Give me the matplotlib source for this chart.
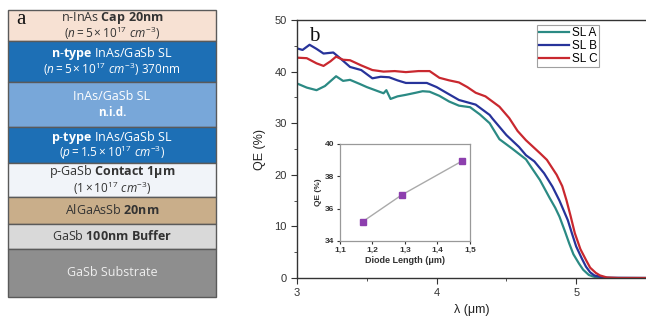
import matplotlib
matplotlib.use("Agg")
import matplotlib.pyplot as plt
from matplotlib.patches import Rectangle

plt.rcParams['font.family'] = ['Liberation Sans', 'DejaVu Sans']
plt.rcParams['mathtext.fontset'] = 'custom'
plt.rcParams['mathtext.rm'] = 'Open Sans'
plt.rcParams['mathtext.it'] = 'Open Sans:italic'
plt.rcParams['mathtext.bf'] = 'Open Sans:bold'

# ---------------- data ----------------
wl_a = [3.00, 3.07, 3.14, 3.20, 3.28, 3.33, 3.38, 3.45, 3.50, 3.58, 3.62, 3.64, 3.67, 3.72,
        3.78, 3.85, 3.90, 3.95, 4.02, 4.09, 4.16, 4.24, 4.31, 4.38, 4.45, 4.54, 4.64, 4.74,
        4.81, 4.85, 4.88, 4.92, 4.95, 4.98, 5.02, 5.05, 5.09, 5.12, 5.15, 5.25, 5.50]
qe_a = [37.7, 36.9, 36.4, 37.2, 39.1, 38.2, 38.4, 37.6, 37.0, 36.2, 35.8, 36.4, 34.7, 35.2,
        35.5, 35.9, 36.2, 36.1, 35.3, 34.2, 33.4, 33.1, 31.7, 30.0, 26.9, 25.1, 23.0, 19.0,
        15.5, 13.6, 11.9, 9.0, 6.7, 4.6, 2.8, 1.6, 0.6, 0.3, 0.1, 0.0, 0.0]

wl_b = [3.00, 3.04, 3.09, 3.14, 3.19, 3.26, 3.30, 3.38, 3.46, 3.54, 3.60, 3.66, 3.72, 3.78,
        3.86, 3.93, 4.00, 4.07, 4.16, 4.28, 4.38, 4.40, 4.50, 4.59, 4.64, 4.70, 4.77, 4.83,
        4.88, 4.94, 4.97, 5.00, 5.04, 5.07, 5.10, 5.13, 5.20, 5.50]
qe_b = [44.5, 44.2, 45.2, 44.4, 43.5, 43.7, 42.8, 40.9, 40.3, 38.7, 39.0, 38.9, 38.3, 37.8,
        37.8, 37.8, 37.0, 35.9, 34.5, 33.6, 31.6, 30.9, 27.7, 25.4, 23.8, 22.6, 20.3, 17.7,
        15.0, 11.2, 8.6, 6.1, 3.8, 2.2, 1.1, 0.5, 0.05, 0.0]

wl_c = [3.00, 3.07, 3.14, 3.19, 3.24, 3.28, 3.33, 3.38, 3.46, 3.54, 3.62, 3.70, 3.78, 3.87,
        3.95, 4.02, 4.09, 4.16, 4.22, 4.28, 4.35, 4.40, 4.45, 4.52, 4.58, 4.64, 4.74, 4.79,
        4.86, 4.90, 4.93, 4.96, 4.99, 5.03, 5.07, 5.10, 5.14, 5.17, 5.22, 5.30, 5.50]
qe_c = [42.7, 42.6, 41.6, 41.1, 42.0, 42.9, 42.3, 42.2, 41.2, 40.3, 40.0, 40.1, 39.9, 40.1,
        40.1, 38.8, 38.3, 37.9, 37.0, 35.9, 35.2, 34.2, 33.2, 31.0, 28.5, 26.7, 24.2, 22.9,
        20.0, 17.8, 15.1, 12.0, 8.7, 5.6, 3.5, 2.0, 1.0, 0.5, 0.1, 0.0, 0.0]

series_names = ["SL A", "SL B", "SL C"]
series_colors = ["#2b8a84", "#27339a", "#c9282f"]

inset_length = [1.17, 1.29, 1.476]
inset_qe = [35.2, 36.85, 38.95]
inset_xticks = [1.1, 1.2, 1.3, 1.4, 1.5]
inset_xticklabels = ["1,1", "1,2", "1,3", "1,4", "1,5"]
inset_yticks = [34, 36, 38, 40]

main_xticks = [3, 4, 5]
main_yticks = [0, 10, 20, 30, 40, 50]

# layer stack (panel a)
layer_line1 = [r"n-InAs $\mathbf{Cap\ 20nm}$",
               r"$\mathbf{n\text{-}type}$ InAs/GaSb SL",
               "InAs/GaSb SL",
               r"$\mathbf{p\text{-}type}$ InAs/GaSb SL",
               r"p-GaSb $\mathbf{Contact\ 1μm}$",
               r"AlGaAsSb $\mathbf{20nm}$",
               r"GaSb $\mathbf{100nm\ Buffer}$",
               "GaSb Substrate"]
layer_line2 = [r"$\mathit{(n=5\times10^{17}\ cm^{-3})}$",
               r"$\mathit{(n=5\times10^{17}\ cm^{-3})}\ \mathrm{370nm}$",
               "n.i.d.",
               r"$\mathit{(p=1.5\times10^{17}\ cm^{-3})}$",
               r"$\mathit{(1\times10^{17}\ cm^{-3})}$",
               "", "", ""]
layer_line2_weight = ["normal", "normal", "bold", "normal", "normal", "normal", "normal", "normal"]
layer_edges = [10, 41, 82, 127, 163, 197, 224, 249, 297]
layer_colors = ["#f7e1d3", "#1d6fb5", "#78a7d9", "#1d6fb5", "#f1f4f9", "#c9ae8a", "#d9d9d9", "#8e8e8e"]
layer_text_colors = ["#333333", "white", "white", "white", "#333333", "#333333", "#333333", "#eeeeee"]

# ---------------- figure ----------------
W, H = 646, 320
fig = plt.figure(figsize=(W / 100, H / 100), dpi=100)
fig.patch.set_facecolor("white")

# panel a: layer stack in pixel coordinates
axl = fig.add_axes([0, 0, 230 / W, 1])
axl.set_xlim(0, 230)
axl.set_ylim(H, 0)
axl.axis("off")
for i in range(len(layer_colors)):
    y0, y1 = layer_edges[i], layer_edges[i + 1]
    axl.add_patch(Rectangle((8, y0), 208, y1 - y0, facecolor=layer_colors[i],
                            edgecolor="#5a5a5a", linewidth=1.0))
    yc = (y0 + y1) / 2
    if layer_line2[i]:
        axl.text(112, yc - 8, layer_line1[i], ha="center", va="center", fontsize=9,
                 family="Open Sans", color=layer_text_colors[i])
        axl.text(112, yc + 8, layer_line2[i], ha="center", va="center", fontsize=8.5,
                 family="Open Sans", color=layer_text_colors[i],
                 fontweight=layer_line2_weight[i])
    else:
        axl.text(112, yc, layer_line1[i], ha="center", va="center", fontsize=9,
                 family="Open Sans", color=layer_text_colors[i])
axl.text(21, 20, "a", ha="center", va="center", fontsize=15, family="Liberation Serif",
         color="#111111")

# panel b: main QE plot
ax = fig.add_axes([297 / W, 1 - 278 / H, (W - 297) / W, (278 - 20) / H])
for wl, qe, name, col in zip([wl_a, wl_b, wl_c], [qe_a, qe_b, qe_c], series_names, series_colors):
    ax.plot(wl, qe, color=col, lw=1.6, label=name, solid_joinstyle="round")
ax.set_xlim(3, 3 + (W - 297) / 140)
ax.set_ylim(0, 50)
ax.set_xticks(main_xticks)
ax.set_yticks(main_yticks)
ax.set_xticks([3.5, 4.5, 5.5], minor=True)
ax.set_yticks([5, 15, 25, 35, 45], minor=True)
ax.spines["right"].set_visible(False)
for s in ["left", "bottom", "top"]:
    ax.spines[s].set_color("#333333")
    ax.spines[s].set_linewidth(1.0)
ax.tick_params(which="major", direction="out", length=4, labelsize=8, colors="#333333")
ax.tick_params(which="minor", direction="out", length=2.5, colors="#333333")
ax.set_ylabel("QE (%)", fontsize=9, labelpad=6, color="#222222")
ax.set_xlabel("λ (μm)", fontsize=9, labelpad=4, color="#222222")
ax.text(3.12, 46.8, "b", ha="center", va="center", fontsize=15, family="Liberation Serif",
        color="#111111")
leg = ax.legend(loc="upper left", bbox_to_anchor=(537 / W, 1 - 25 / H),
                bbox_transform=fig.transFigure, fontsize=8.5, frameon=True, fancybox=False,
                handlelength=2.6, handletextpad=0.2, borderpad=0.15, labelspacing=0.1,
                borderaxespad=0)
leg.get_frame().set_edgecolor("#888888")
leg.get_frame().set_linewidth(0.8)

# inset
axi = fig.add_axes([340 / W, 1 - 241 / H, 130 / W, 97 / H])
axi.plot(inset_length, inset_qe, color="#aaaaaa", lw=1.0, marker="s", markersize=5,
         markerfacecolor="#8d3fae", markeredgecolor="#8d3fae")
axi.set_xlim(1.1, 1.5)
axi.set_ylim(34, 40)
axi.set_xticks(inset_xticks)
axi.set_xticklabels(inset_xticklabels)
axi.set_yticks(inset_yticks)
for s in axi.spines.values():
    s.set_color("#999999")
    s.set_linewidth(0.9)
axi.tick_params(direction="out", length=2.5, labelsize=6, colors="#333333", pad=1.5)
for lab in axi.get_xticklabels() + axi.get_yticklabels():
    lab.set_fontweight("bold")
axi.set_xlabel("Diode Length (μm)", fontsize=6.5, fontweight="bold", labelpad=2, color="#333333")
axi.set_ylabel("QE (%)", fontsize=6, fontweight="bold", labelpad=2, color="#333333")

fig.savefig("out.png", dpi=100)
